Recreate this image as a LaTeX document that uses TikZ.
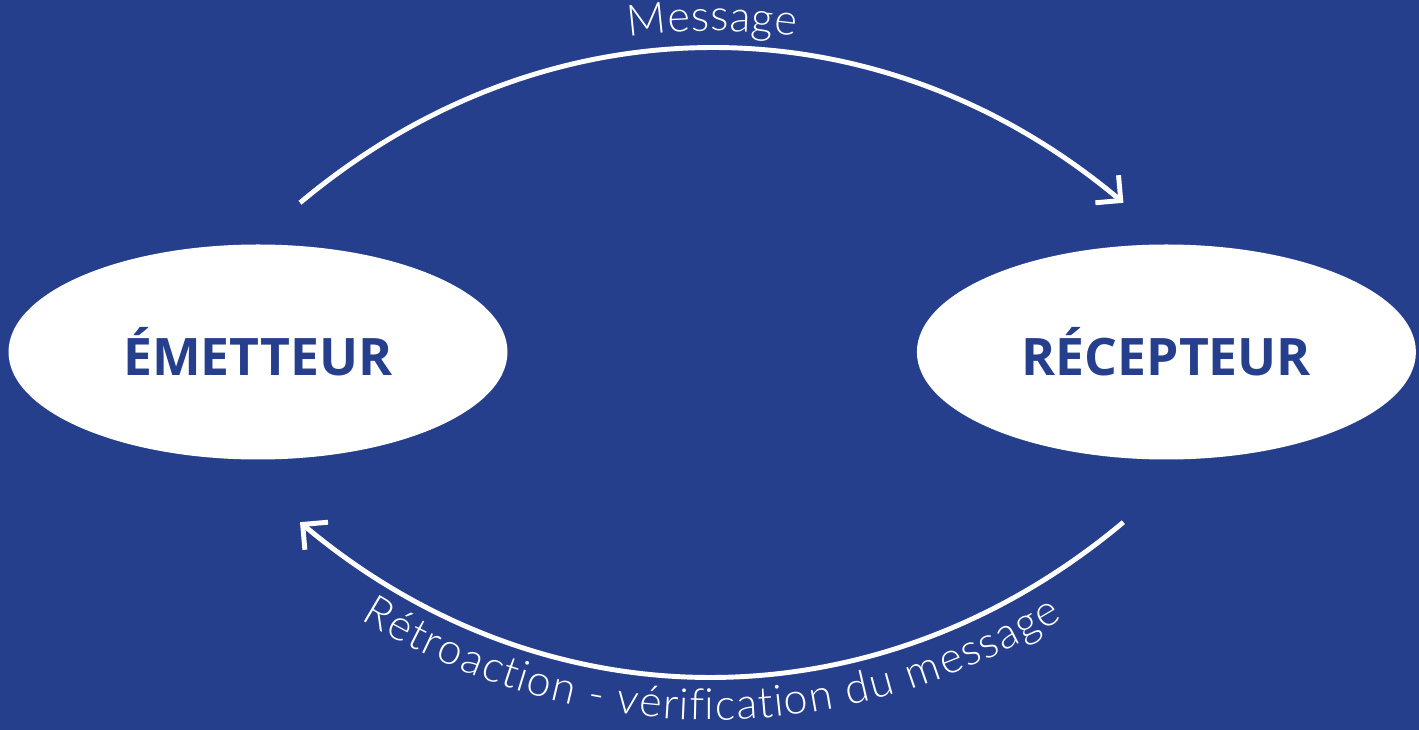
\documentclass[tikz,border=0pt]{standalone}
\usepackage{fontspec}
\setmainfont{Open Sans}
\newfontfamily\thinfont{Lato Light}
\usetikzlibrary{arrows.meta,positioning,calc,shapes.geometric,decorations.text}
\definecolor{navy}{HTML}{263F8D}

\begin{document}
\begin{tikzpicture}[node distance=4.08cm,
      party/.style={ellipse, fill=white, minimum width=4.99cm, minimum height=2.15cm, inner sep=0pt,
                    text=navy, font=\fontsize{14.7}{16}\selectfont\bfseries},
      arr/.style={-{Straight Barb[length=1.8mm, width=3.6mm]}, white, line width=1.4pt}]
    \useasboundingbox (0,0) rectangle (14.19,7.30);
    \fill[navy] (0,0) rectangle (14.19,7.30);
    \node[party] (em) at (2.58,3.78) {ÉMETTEUR};
    \node[party, right=of em] (rec) {RÉCEPTEUR};
    % loose ends of the two arcs
    \coordinate (m1) at ($(em.north)+(0.42,0.41)$);
    \coordinate (m2) at ($(rec.north)+(-0.43,0.41)$);
    \coordinate (f1) at ($(rec.south)+(-0.43,-0.62)$);
    \coordinate (f2) at ($(em.south)+(0.42,-0.62)$);
    \draw[arr] (m1) to[bend left=40] (m2);
    \draw[arr] (f1) to[bend left=40] (f2);
    % labels along the arcs
    \path[decorate, decoration={text along path, text align=center, raise=0.17cm,
          text={|\color{white}\thinfont\fontsize{12.3}{14}\selectfont|Message}}]
      (m1) to[bend left=40] (m2);
    \path[decorate, decoration={text along path, text align=center, raise=-0.43cm,
          text={|\color{white}\thinfont\fontsize{12.3}{14}\selectfont|Rétroaction - vérification du message}}]
      (f2) to[bend right=40] (f1);
  \end{tikzpicture}
\end{document}
